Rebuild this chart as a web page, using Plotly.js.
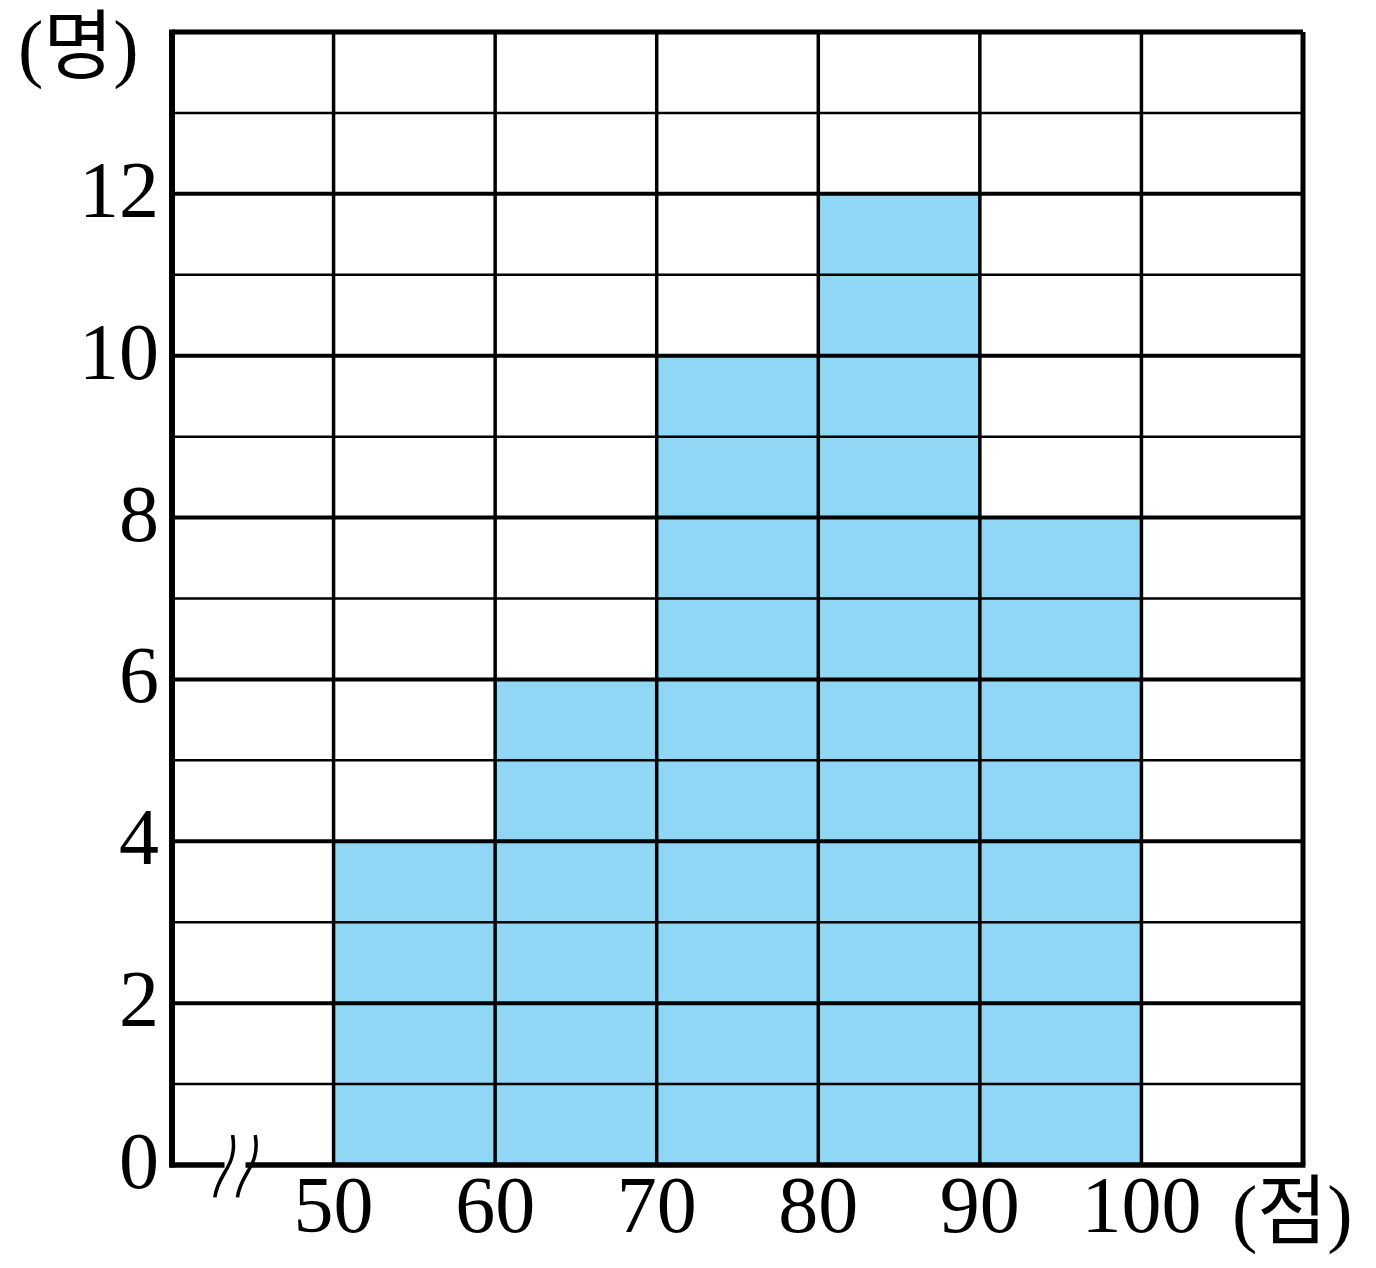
<!DOCTYPE html>
<html>
<head>
<meta charset="utf-8">
<script src="https://cdn.plot.ly/plotly-3.0.1.min.js"></script>
<style>html,body{margin:0;padding:0;background:#fff;}#chart{width:1376px;height:1268px;}</style>
</head>
<body>
<div id="chart"></div>
<script>
// Data
const binStarts = [50, 60, 70, 80, 90];
const counts = [4, 6, 10, 12, 8];
const binWidth = 10;
const xTickVals = [50, 60, 70, 80, 90, 100];
const xTickText = ['50', '60', '70', '80', '90', '100'];
const yTickVals = [0, 2, 4, 6, 8, 10, 12];
const yTickText = ['0', '2', '4', '6', '8', '10', '12'];
const xRange = [40, 110];
const yRange = [0, 14];

const serif = 'Liberation Serif, Times New Roman, DejaVu Serif, Noto Sans CJK KR, serif';

const trace = {
  type: 'bar',
  x: binStarts.map(s => s + binWidth / 2),
  y: counts,
  width: binStarts.map(() => binWidth),
  marker: {color: '#8fd7f5', line: {width: 0}},
  hoverinfo: 'skip'
};

// convert data values to paper fractions (so shapes are not clipped at the plot edge)
const px = v => (v - xRange[0]) / (xRange[1] - xRange[0]);
const py = v => (v - yRange[0]) / (yRange[1] - yRange[0]);

const shapes = [];
function line(x0, y0, x1, y1, w) {
  shapes.push({type: 'line', layer: 'above', xref: 'paper', yref: 'paper',
    x0: px(x0), x1: px(x1), y0: py(y0), y1: py(y1), line: {color: '#000', width: w}});
}
// horizontal grid lines
for (let v = yRange[0] + 1; v < yRange[1]; v++) line(xRange[0], v, xRange[1], v, v % 2 === 0 ? 4 : 2.5);
// vertical grid lines
for (let v = xRange[0] + 10; v < xRange[1]; v += 10) line(v, yRange[0], v, yRange[1], 3.5);
// frame
line(xRange[0], yRange[1], xRange[1], yRange[1], 5);
line(xRange[1], yRange[0], xRange[1], yRange[1], 5);
line(xRange[0], yRange[0] - 0.03, xRange[0], yRange[1] + 0.03, 6);
line(xRange[0] - 0.15, yRange[0], xRange[1] + 0.15, yRange[0], 5.5);
// axis break: white gap + two wavy strokes
shapes.push({type: 'rect', layer: 'above', xref: 'paper', yref: 'paper',
  x0: px(43.25), x1: px(44.55), y0: py(-0.05), y1: py(0.05), fillcolor: '#fff', line: {width: 0}});
function wave(dx) {
  const pts = [[43.75, 0.37], [43.95, 0.15], [43.6, 0.02], [43.3, -0.08], [43.05, -0.17], [42.75, -0.25], [42.65, -0.4]];
  const p = pts.map(q => (px(q[0] + dx)).toFixed(5) + ',' + (py(q[1])).toFixed(5));
  return 'M ' + p[0] + ' C ' + p[1] + ' ' + p[2] + ' ' + p[3] + ' C ' + p[4] + ' ' + p[5] + ' ' + p[6];
}
shapes.push({type: 'path', layer: 'above', xref: 'paper', yref: 'paper', path: wave(0), line: {color: '#000', width: 3.5}});
shapes.push({type: 'path', layer: 'above', xref: 'paper', yref: 'paper', path: wave(1.4), line: {color: '#000', width: 3.5}});

const layout = {
  width: 1376, height: 1268,
  margin: {l: 172, r: 73, t: 32, b: 103, pad: 0},
  paper_bgcolor: '#fff', plot_bgcolor: '#fff',
  showlegend: false,
  bargap: 0,
  xaxis: {range: xRange, tickvals: xTickVals, ticktext: xTickText, showgrid: false, zeroline: false,
    showline: false, ticks: '', ticklabelstandoff: -14, tickfont: {family: serif, size: 80, color: '#000'}, fixedrange: true},
  yaxis: {range: yRange, tickvals: yTickVals, ticktext: yTickText, showgrid: false, zeroline: false,
    showline: false, ticks: '', ticklabelstandoff: 12, ticklabelshift: -5, tickfont: {family: serif, size: 80, color: '#000'}, fixedrange: true},
  shapes: shapes,
  annotations: [
    {text: '(명)', xref: 'paper', yref: 'paper', x: -0.083, y: 0.986, xanchor: 'center', yanchor: 'middle', showarrow: false,
      font: {family: serif, size: 76, color: '#000'}},
    {text: '(점)', xref: 'paper', yref: 'paper', x: 0.991, y: -0.0415, xanchor: 'center', yanchor: 'middle', showarrow: false,
      font: {family: serif, size: 76, color: '#000'}}
  ]
};

Plotly.newPlot('chart', [trace], layout, {displayModeBar: false, staticPlot: true});
</script>
</body>
</html>
